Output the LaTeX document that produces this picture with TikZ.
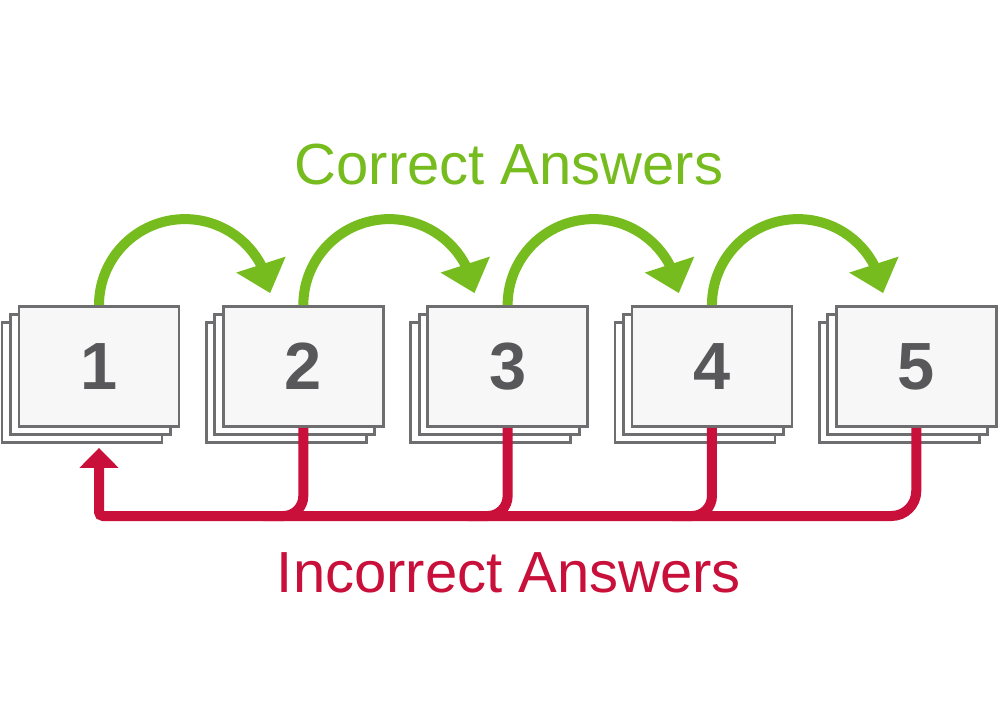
\documentclass[tikz,border=0pt]{standalone}
\usepackage{fontspec}
\setmainfont{Liberation Sans}
\usetikzlibrary{positioning,shadows,arrows.meta,bending}
\definecolor{rightgreen}{HTML}{77BC1F}
\definecolor{wrongred}{HTML}{C8103A}
\definecolor{cardgray}{HTML}{6E6E70}
\definecolor{numgray}{HTML}{58585A}
\tikzset{
	card/.style={draw=cardgray, line width=0.8pt, fill=white!97!black,
		minimum width=1.6cm, minimum height=1.2cm, text=numgray,
		font=\fontsize{19}{19}\selectfont\bfseries,
		double copy shadow={shadow xshift=-0.085cm, shadow yshift=-0.08cm, fill=white, draw=cardgray, line width=0.8pt}},
	goon/.style={draw=rightgreen, line width=0.1cm, -{Triangle[width=0.5cm, length=0.3cm]}},
	goback/.style={draw=wrongred, line width=0.1cm}
}
\begin{document}
\begin{tikzpicture}
	\useasboundingbox (0,0) rectangle (10,7);
	% cards
	\node[card] (c1) at (0.99,3.335) {1};
	\node[card, right=0.415cm of c1] (c2) {2};
	\node[card, right=0.415cm of c2] (c3) {3};
	\node[card, right=0.415cm of c3] (c4) {4};
	\node[card, right=0.415cm of c4] (c5) {5};
	% labels
	\node[text=rightgreen, font=\fontsize{16.5}{16.5}\selectfont] (ok) at (5.09,5.35) {Correct Answers};
	\node[text=wrongred, font=\fontsize{16.5}{16.5}\selectfont] (ko) at (5.09,1.27) {Incorrect Answers};
	\coordinate (bus) at (0,1.84);
	\coordinate (back) at ([yshift=-0.2cm]c1.south);
	% correct answers go on
	\draw[goon] (c1.north) arc[start angle=180, end angle=8, radius=0.86cm];
	\draw[goon] (c2.north) arc[start angle=180, end angle=8, radius=0.86cm];
	\draw[goon] (c3.north) arc[start angle=180, end angle=8, radius=0.86cm];
	\draw[goon] (c4.north) arc[start angle=180, end angle=8, radius=0.86cm];
	% incorrect answers go back to 1
	\draw[goback, -{Triangle[width=0.38cm, length=0.2cm]}]
		(c5.south) [rounded corners=0.25cm] -- (c5 |- bus) [rounded corners=0.04cm] -- (c1 |- bus) -- (back);
	\draw[goback, rounded corners=0.2cm] (c2.south) |- ([xshift=-0.4cm]c2 |- bus);
	\draw[goback, rounded corners=0.2cm] (c3.south) |- ([xshift=-0.4cm]c3 |- bus);
	\draw[goback, rounded corners=0.2cm] (c4.south) |- ([xshift=-0.4cm]c4 |- bus);
\end{tikzpicture}
\end{document}
